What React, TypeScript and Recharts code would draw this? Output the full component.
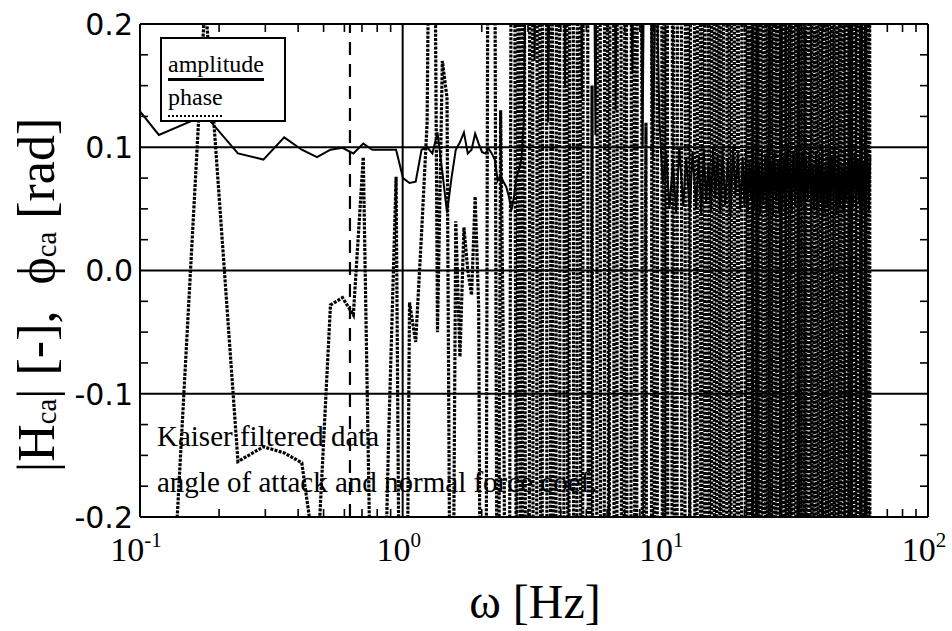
import { LineChart, Line, XAxis, YAxis, ReferenceLine } from 'recharts';

// Frequency bins [Hz] - low part is the raw FFT grid, upper parts are thinned
const freqLow = [
  0.059, 0.118, 0.177, 0.236, 0.295, 0.354, 0.413, 0.472, 0.531, 0.59,
  0.649, 0.708, 0.767, 0.826, 0.885, 0.944, 1.003, 1.062, 1.121, 1.18,
  1.239, 1.298, 1.357, 1.416, 1.475, 1.534, 1.593, 1.652, 1.711, 1.77,
  1.829, 1.888, 1.947, 2.006, 2.065, 2.124, 2.183, 2.242, 2.301, 2.36,
  2.419, 2.478, 2.537, 2.596, 2.655, 2.714, 2.773, 2.832, 2.891, 2.95,
];
const freqMid = [
  3.0, 3.09, 3.18, 3.28, 3.38, 3.48, 3.58, 3.69, 3.8, 3.91,
  4.03, 4.15, 4.28, 4.41, 4.54, 4.67, 4.81, 4.96, 5.11, 5.26,
  5.42, 5.58, 5.75, 5.92, 6.1, 6.28, 6.47, 6.66, 6.86, 7.07,
  7.28, 7.5, 7.72, 7.95, 8.19, 8.44, 8.69, 8.95, 9.22, 9.5,
  9.78, 10.07, 10.37, 10.68, 11.0, 11.3, 11.7, 12.0, 12.4, 12.7,
];
const freqUpper = [
  13.1, 13.4, 13.7, 14.0, 14.3, 14.6, 14.9, 15.2, 15.5, 15.8,
  16.2, 16.5, 16.9, 17.3, 17.7, 18.1, 18.5, 18.9, 19.3, 19.7,
];
const freqTop = [
  20.0, 20.3, 20.6, 20.9, 21.2, 21.5, 21.8, 22.1, 22.4, 22.7,
  23.0, 23.3, 23.6, 24.0, 24.3, 24.6, 25.0, 25.3, 25.7, 26.0,
  26.4, 26.8, 27.1, 27.5, 27.9, 28.3, 28.7, 29.1, 29.5, 29.9,
  30.3, 30.7, 31.2, 31.6, 32.1, 32.5, 33.0, 33.4, 33.9, 34.4,
  34.9, 35.4, 35.9, 36.4, 36.9, 37.4, 37.9, 38.5, 39.0, 39.6,
  40.1, 40.7, 41.3, 41.9, 42.5, 43.1, 43.7, 44.3, 44.9, 45.6,
  46.2, 46.9, 47.5, 48.2, 48.9, 49.6, 50.3, 51.0, 51.7, 52.5,
  53.2, 54.0, 54.7, 55.5, 56.3, 57.1, 57.9, 58.8, 59.6, 60.3,
];

// |H_ca| [-]
const ampLow = [
  0.19, 0.11, 0.126, 0.095, 0.09, 0.108, 0.098, 0.092, 0.098, 0.0995,
  0.095, 0.103, 0.098, 0.098, 0.098, 0.098, 0.075, 0.071, 0.072, 0.098,
  0.1, 0.095, 0.112, 0.08, 0.047, 0.075, 0.098, 0.104, 0.112, 0.095,
  0.098, 0.111, 0.103, 0.096, 0.095, 0.099, 0.095, 0.09, 0.073, 0.077,
  0.072, 0.068, 0.06, 0.049, 0.06, 0.076, 0.082, 0.09, 0.12, 0.26,
];
const ampMid = [
  0.45, 0.62, 0.17, 0.51, 0.38, 0.72, 0.12, 0.44, 0.58, 0.33,
  0.66, 0.15, 0.49, 0.81, 0.4, 0.55, 0.14, 0.7, 0.36, 0.47,
  0.11, 0.59, 0.43, 0.77, 0.31, 0.64, 0.13, 0.52, 0.39, 0.68,
  0.29, 0.16, 0.57, 0.41, 0.1, 0.48, 0.35, 0.09, 0.26, 0.12,
  0.07, 0.095, 0.05, 0.088, 0.046, 0.1, 0.052, 0.092, 0.048, 0.097,
];
const ampUpper = [
  0.05, 0.094, 0.045, 0.099, 0.055, 0.087, 0.047, 0.1, 0.058, 0.093,
  0.046, 0.098, 0.053, 0.09, 0.044, 0.101, 0.06, 0.095, 0.049, 0.092,
];
const ampTop = [
  0.051, 0.097, 0.046, 0.089, 0.058, 0.1, 0.048, 0.094, 0.055, 0.086,
  0.044, 0.099, 0.053, 0.092, 0.047, 0.101, 0.059, 0.088, 0.045, 0.096,
  0.056, 0.09, 0.046, 0.098, 0.05, 0.093, 0.044, 0.1, 0.057, 0.087,
  0.048, 0.095, 0.052, 0.102, 0.045, 0.089, 0.054, 0.097, 0.046, 0.091,
  0.058, 0.099, 0.047, 0.086, 0.05, 0.096, 0.044, 0.093, 0.055, 0.101,
  0.046, 0.088, 0.053, 0.098, 0.048, 0.092, 0.057, 0.1, 0.045, 0.094,
  0.052, 0.087, 0.047, 0.097, 0.056, 0.09, 0.044, 0.099, 0.051, 0.095,
  0.049, 0.091, 0.054, 0.1, 0.046, 0.088, 0.058, 0.096, 0.047, 0.093,
];

// phi_ca [rad]
const phaseLow = [
  -0.9, -0.476, 0.22, -0.155, -0.143, -0.148, -0.156, -0.245, -0.028, -0.022,
  -0.036, 0.092, -0.35, -0.4, -0.133, 0.076, -0.7, -0.026, -0.058, 0.03,
  0.12, 0.6, -0.05, 0.17, 0.14, -0.5, 0.04, -0.07, 0.035, 0.0,
  -0.02, 0.06, -0.03, -0.6, -0.5, 0.5, 0.4, 0.3, -0.5, 0.13,
  -0.07, -0.45, -0.5, 0.4, 0.5, -0.4, 0.6, -0.6, 0.6, -0.6,
];
const phaseMid = [
  -1.8, 2.2, -2.6, 1.4, -0.9, 2.8, -2.1, 0.7, -1.5, 2.4,
  -2.9, 1.1, -0.6, 2.0, -2.3, 1.7, -1.2, 2.6, -0.8, 0.15,
  -1.9, 2.3, -2.7, 1.3, -0.5, 1.9, -2.2, 2.9, -1.4, 0.9,
  -2.5, 1.6, -1.1, 2.1, -0.4, 0.12, -2.8, 1.2, -1.7, 2.5,
  -0.7, 1.8, -2.4, 0.6, -1.3, 2.7, -2.0, 1.0, -0.3, 2.2,
];
const phaseUpper = [
  -1.6, 2.3, -0.9, 1.8, -2.6, 0.8, -1.4, 2.7, -2.1, 1.1,
  -0.6, 2.0, -2.8, 1.5, -1.0, 2.4, -1.9, 0.7, -2.3, 1.6,
];
const phaseTop = [
  2.4, -1.7, 0.9, -2.8, 1.6, -0.6, 2.9, -2.2, 1.2, -1.5,
  2.1, -2.6, 0.7, -1.1, 2.7, -2.0, 1.4, -0.8, 2.5, -2.9,
  1.0, -1.8, 2.3, -0.5, 1.7, -2.4, 0.8, -1.3, 2.8, -2.1,
  1.5, -0.9, 2.6, -2.7, 0.6, -1.6, 2.0, -2.3, 1.1, -0.7,
  2.9, -1.4, 1.8, -2.5, 0.5, -1.9, 2.2, -2.8, 1.3, -1.0,
  2.6, -2.2, 0.9, -1.5, 2.4, -0.6, 1.7, -2.6, 2.1, -1.2,
  0.8, -2.9, 1.9, -1.1, 2.7, -2.0, 1.4, -0.8, 2.3, -2.4,
  1.2, -1.7, 2.8, -0.5, 1.6, -2.1, 0.7, -2.7, 2.0, -1.3,
];

const freqHz = [...freqLow, ...freqMid, ...freqUpper, ...freqTop];
const amplitude = [...ampLow, ...ampMid, ...ampUpper, ...ampTop];
const phase = [...phaseLow, ...phaseMid, ...phaseUpper, ...phaseTop];

const data = freqHz.map((f, i) => ({ f, amplitude: amplitude[i], phase: phase[i] }));

// axes
const xTicks = [
  0.1, 0.2, 0.3, 0.4, 0.5, 0.6, 0.7, 0.8, 0.9,
  1, 2, 3, 4, 5, 6, 7, 8, 9,
  10, 20, 30, 40, 50, 60, 70, 80, 90, 100,
];
const xDecades = [0.1, 1, 10, 100];
const xExponents = ['-1', '0', '1', '2'];
const yTicks = [
  -0.2, -0.175, -0.15, -0.125, -0.1, -0.075, -0.05, -0.025, 0,
  0.025, 0.05, 0.075, 0.1, 0.125, 0.15, 0.175, 0.2,
];
const yMajor = [-0.2, -0.1, 0, 0.1, 0.2];
const yLabels = ['-0.2', '-0.1', '0.0', '0.1', '0.2'];
const gridY = [-0.1, 0, 0.1];
const gridX = [1, 10];
const cutoffHz = 0.63;

const SERIF = "'Liberation Serif', 'Times New Roman', serif";
const SANS = "'DejaVu Sans', sans-serif";

function BottomTick({ x, y, payload }: any) {
  const idx = xDecades.indexOf(payload.value);
  return (
    <g>
      {idx < 0 && <line x1={x} x2={x} y1={y} y2={y - 8} stroke="#000" strokeWidth={1.6} />}
      {idx >= 0 && (
        <text x={x - 4} y={y + 44} textAnchor="middle" fontFamily={SERIF} fontSize={34} fill="#000">
          10<tspan dy={-14} fontSize={21}>{xExponents[idx]}</tspan>
        </text>
      )}
    </g>
  );
}

function TopTick({ x, y, payload }: any) {
  if (xDecades.indexOf(payload.value) >= 0) return <g />;
  return <line x1={x} x2={x} y1={y} y2={y + 8} stroke="#000" strokeWidth={1.6} />;
}

function LeftTick({ x, y, payload }: any) {
  const idx = yMajor.indexOf(payload.value);
  return (
    <g>
      {idx < 0 && <line x1={x} x2={x + 8} y1={y} y2={y} stroke="#000" strokeWidth={1.6} />}
      {idx >= 0 && (
        <text x={x - 7} y={y} dy="0.36em" textAnchor="end" fontFamily={SANS} fontSize={30} fill="#000">
          {yLabels[idx]}
        </text>
      )}
    </g>
  );
}

function RightTick({ x, y, payload }: any) {
  if (yMajor.indexOf(payload.value) >= 0) return <g />;
  return <line x1={x} x2={x - 8} y1={y} y2={y} stroke="#000" strokeWidth={1.6} />;
}

const axisLine = { stroke: '#000', strokeWidth: 2 };

export default function App() {
  return (
    <div style={{ position: 'absolute', left: 0, top: 0, width: 952, height: 631, background: '#fff', fontFamily: SERIF, color: '#000' }}>
      {/* annotation sits underneath the traces */}
      <div style={{ position: 'absolute', left: 157, top: 422, fontSize: 29, lineHeight: '29px', whiteSpace: 'nowrap' }}>
        Kaiser filtered data
      </div>
      <div style={{ position: 'absolute', left: 157, top: 468, fontSize: 29, lineHeight: '29px', whiteSpace: 'nowrap' }}>
        angle of attack and normal force coef.
      </div>

      <div style={{ position: 'absolute', left: 0, top: 0 }}>
        <LineChart width={952} height={631} data={data} margin={{ top: 23, right: 23, bottom: 113, left: 139 }}>
          <XAxis
            dataKey="f"
            type="number"
            scale="log"
            domain={[0.1, 100]}
            allowDataOverflow
            ticks={xTicks}
            interval={0}
            height={1}
            tickSize={0}
            tickMargin={0}
            tickLine={false}
            axisLine={axisLine}
            tick={<BottomTick />}
          />
          <XAxis
            xAxisId="top"
            orientation="top"
            dataKey="f"
            type="number"
            scale="log"
            domain={[0.1, 100]}
            allowDataOverflow
            ticks={xTicks}
            interval={0}
            height={1}
            tickSize={0}
            tickMargin={0}
            tickLine={false}
            axisLine={axisLine}
            tick={<TopTick />}
          />
          <YAxis
            type="number"
            domain={[-0.2, 0.2]}
            allowDataOverflow
            ticks={yTicks}
            interval={0}
            width={1}
            tickSize={0}
            tickMargin={0}
            tickLine={false}
            axisLine={axisLine}
            tick={<LeftTick />}
          />
          <YAxis
            yAxisId="right"
            orientation="right"
            type="number"
            domain={[-0.2, 0.2]}
            allowDataOverflow
            ticks={yTicks}
            interval={0}
            width={1}
            tickSize={0}
            tickMargin={0}
            tickLine={false}
            axisLine={axisLine}
            tick={<RightTick />}
          />
          {gridY.map((v) => (
            <ReferenceLine key={'gy' + v} y={v} stroke="#000" strokeWidth={2} />
          ))}
          {gridX.map((v) => (
            <ReferenceLine key={'gx' + v} x={v} stroke="#000" strokeWidth={2} />
          ))}
          <ReferenceLine x={cutoffHz} stroke="#000" strokeWidth={2.2} strokeDasharray="13 9" />
          <Line
            dataKey="phase"
            type="linear"
            stroke="#000"
            strokeWidth={3.2}
            strokeDasharray="3 1.3"
            dot={false}
            activeDot={false}
            isAnimationActive={false}
          />
          <Line
            dataKey="amplitude"
            type="linear"
            stroke="#000"
            strokeWidth={2}
            dot={false}
            activeDot={false}
            isAnimationActive={false}
          />
        </LineChart>
      </div>

      {/* legend box covers the traces */}
      <div style={{ position: 'absolute', left: 160, top: 37, width: 122, height: 81, border: '2px solid #000', background: '#fff' }}>
        <div style={{ position: 'absolute', left: 6, top: 13, fontSize: 24, lineHeight: '24px' }}>amplitude</div>
        <div style={{ position: 'absolute', left: 6, top: 39, width: 96, borderTop: '3px solid #000' }} />
        <div style={{ position: 'absolute', left: 6, top: 46, fontSize: 24, lineHeight: '24px' }}>phase</div>
        <div style={{ position: 'absolute', left: 6, top: 76, width: 54, borderTop: '2px dotted #000' }} />
      </div>

      {/* axis titles */}
      <div
        style={{
          position: 'absolute',
          left: 42,
          top: 295,
          transform: 'translate(-50%, -50%) rotate(-90deg)',
          fontSize: 52,
          lineHeight: '52px',
          whiteSpace: 'nowrap',
        }}
      >
        |H<sub style={{ fontSize: '0.55em', verticalAlign: '-0.1em' }}>ca</sub>| [-],&nbsp; ϕ
        <sub style={{ fontSize: '0.55em', verticalAlign: '-0.1em' }}>ca</sub> [rad]
      </div>
      <div style={{ position: 'absolute', left: 535, top: 578, transform: 'translateX(-50%)', fontSize: 48, lineHeight: '48px', whiteSpace: 'nowrap' }}>
        ω [Hz]
      </div>
    </div>
  );
}
